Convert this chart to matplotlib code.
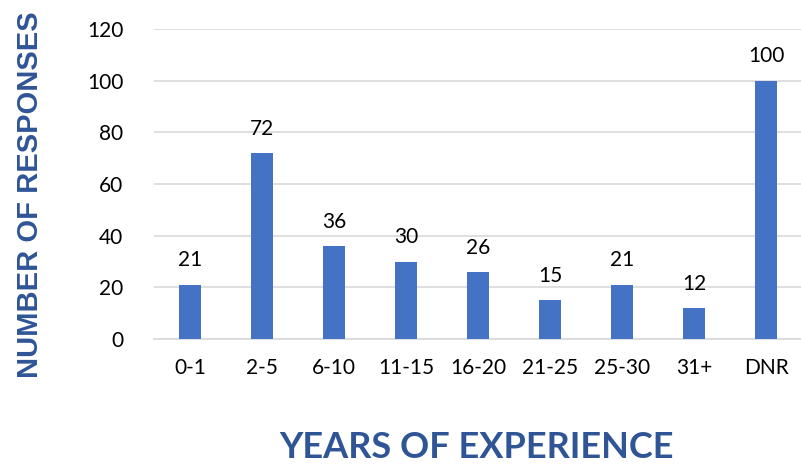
import matplotlib.pyplot as plt

categories = ["0-1", "2-5", "6-10", "11-15", "16-20", "21-25", "25-30", "31+", "DNR"]
responses = [21, 72, 36, 30, 26, 15, 21, 12, 100]
y_ticks = [0, 20, 40, 60, 80, 100, 120]

bar_color = "#4472C4"
label_blue = "#2F5597"

fig = plt.figure(figsize=(8.01, 4.68), dpi=100)
# plot area runs a bit past the right edge, like the original
ax = fig.add_axes([154 / 801, 1 - 339 / 468, (802 - 154) / 801, (339 - 29) / 468])

x = range(len(categories))
ax.bar(x, responses, width=0.31, color=bar_color, zorder=3)

for xi, v in zip(x, responses):
    ax.text(xi, v + 9.4, str(v), ha="center", va="center",
            fontsize=15, family="Lato", color="#000000")

ax.set_xlim(-0.5, len(categories) - 0.5)
ax.set_ylim(0, 120)
ax.set_yticks(y_ticks)
ax.set_xticks(list(x))
ax.set_xticklabels(categories, fontsize=15, family="Lato")
ax.set_yticklabels([str(t) for t in y_ticks], fontsize=15, family="Lato")
ax.tick_params(axis="both", length=0)
ax.tick_params(axis="x", pad=14)
ax.tick_params(axis="y", pad=22)

ax.grid(axis="y", color="#D9D9D9", linewidth=1.2, zorder=0)
for s in ["top", "right", "left"]:
    ax.spines[s].set_visible(False)
ax.spines["bottom"].set_color("#D9D9D9")
ax.spines["bottom"].set_linewidth(1.2)

fig.text(30 / 801, 1 - 195 / 468, "NUMBER OF RESPONSES", rotation=90,
         ha="center", va="center", fontsize=21, fontweight="bold",
         family="Liberation Sans", color=label_blue)
fig.text(477 / 801, 1 - 448 / 468, "YEARS OF EXPERIENCE",
         ha="center", va="center", fontsize=26, fontweight="bold",
         family="Lato", color=label_blue)

fig.savefig("out.png", dpi=100)
